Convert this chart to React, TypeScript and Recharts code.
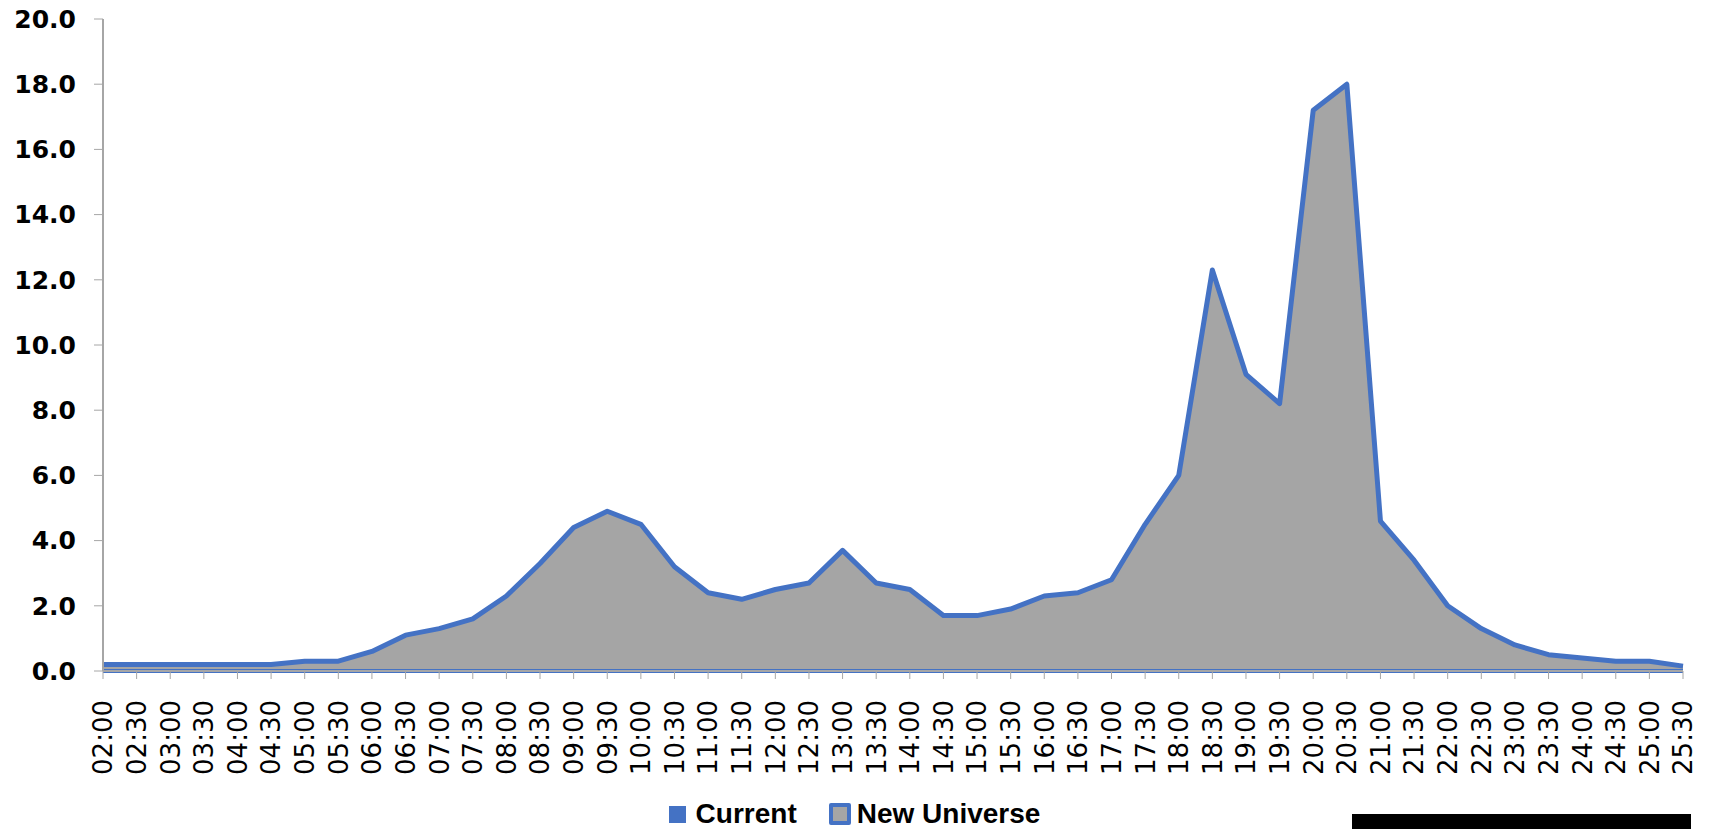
import {
    AreaChart,
    Area,
    XAxis,
    YAxis,
    Legend,
} from "recharts";

const times = [
    "02:00", "02:30", "03:00", "03:30", "04:00", "04:30", "05:00", "05:30",
    "06:00", "06:30", "07:00", "07:30", "08:00", "08:30", "09:00", "09:30",
    "10:00", "10:30", "11:00", "11:30", "12:00", "12:30", "13:00", "13:30",
    "14:00", "14:30", "15:00", "15:30", "16:00", "16:30", "17:00", "17:30",
    "18:00", "18:30", "19:00", "19:30", "20:00", "20:30", "21:00", "21:30",
    "22:00", "22:30", "23:00", "23:30", "24:00", "24:30", "25:00", "25:30",
];

const newUniverse = [
    0.2, 0.2, 0.2, 0.2, 0.2, 0.2, 0.3, 0.3,
    0.6, 1.1, 1.3, 1.6, 2.3, 3.3, 4.4, 4.9,
    4.5, 3.2, 2.4, 2.2, 2.5, 2.7, 3.7, 2.7,
    2.5, 1.7, 1.7, 1.9, 2.3, 2.4, 2.8, 4.5,
    6.0, 12.3, 9.1, 8.2, 17.2, 18.0, 4.6, 3.4,
    2.0, 1.3, 0.8, 0.5, 0.4, 0.3, 0.3, 0.15,
];

const current = [
    0, 0, 0, 0, 0, 0, 0, 0,
    0, 0, 0, 0, 0, 0, 0, 0,
    0, 0, 0, 0, 0, 0, 0, 0,
    0, 0, 0, 0, 0, 0, 0, 0,
    0, 0, 0, 0, 0, 0, 0, 0,
    0, 0, 0, 0, 0, 0, 0, 0,
];

const yTicks = [0, 2, 4, 6, 8, 10, 12, 14, 16, 18, 20];

const data = times.map((t, i) => ({
    time: t,
    current: current[i],
    newUniverse: newUniverse[i],
}));

const BLUE = "#4472C4";
const GRAY = "#A5A5A5";
const AXIS = "#A6A6A6";

function TimeTick(props: any) {
    const { x, y, payload } = props;
    return (
        <g transform={`translate(${x},${y})`}>
            <text
                transform="rotate(-90)"
                x={-19}
                y={0}
                dy="0.36em"
                textAnchor="end"
                fontFamily="DejaVu Sans"
                fontSize={26}
                fill="#000"
            >
                {payload.value}
            </text>
        </g>
    );
}

function ChartLegend() {
    const label = {
        fontFamily: "Liberation Sans",
        fontWeight: 700,
        fontSize: 28,
        lineHeight: "28px",
        color: "#000",
    };
    return (
        <div
            style={{
                display: "flex",
                justifyContent: "center",
                alignItems: "center",
                paddingTop: 31,
                marginLeft: 26,
            }}
        >
            <span style={{ width: 17, height: 17, background: BLUE, marginRight: 10 }} />
            <span style={{ ...label, marginRight: 32 }}>Current</span>
            <span
                style={{
                    width: 14,
                    height: 14,
                    background: GRAY,
                    border: `4px solid ${BLUE}`,
                    borderRadius: 2,
                    marginRight: 6,
                }}
            />
            <span style={label}>New Universe</span>
        </div>
    );
}

export default function App() {
    return (
        <div style={{ position: "absolute", left: 0, top: 0, width: 1713, height: 829, background: "#fff", overflow: "hidden" }}>
            <AreaChart
                width={1713}
                height={829}
                data={data}
                margin={{ top: 19, right: 30, left: 0, bottom: 0 }}
            >
                <XAxis
                    dataKey="time"
                    interval={0}
                    tick={<TimeTick />}
                    tickLine={{ stroke: AXIS }}
                    tickSize={8}
                    axisLine={{ stroke: AXIS, strokeWidth: 2 }}
                    height={98}
                />
                <YAxis
                    domain={[0, 20]}
                    ticks={yTicks}
                    width={103}
                    tickFormatter={(v: number) => v.toFixed(1)}
                    tick={{ fontFamily: "DejaVu Sans", fontWeight: 700, fontSize: 25, fill: "#000" }}
                    tickLine={{ stroke: AXIS }}
                    tickSize={9}
                    tickMargin={18}
                    axisLine={{ stroke: AXIS, strokeWidth: 2 }}
                />
                <Legend verticalAlign="bottom" height={60} content={() => <ChartLegend />} />
                <Area
                    type="linear"
                    dataKey="newUniverse"
                    stroke={BLUE}
                    strokeWidth={5}
                    strokeLinejoin="round"
                    fill={GRAY}
                    fillOpacity={1}
                    isAnimationActive={false}
                />
                <Area
                    type="linear"
                    dataKey="current"
                    stroke={BLUE}
                    strokeWidth={4}
                    fill={BLUE}
                    fillOpacity={1}
                    isAnimationActive={false}
                />
            </AreaChart>
            <div
                style={{
                    position: "absolute",
                    left: 1352,
                    top: 814,
                    width: 339,
                    height: 15,
                    background: "#000",
                }}
            />
        </div>
    );
}
